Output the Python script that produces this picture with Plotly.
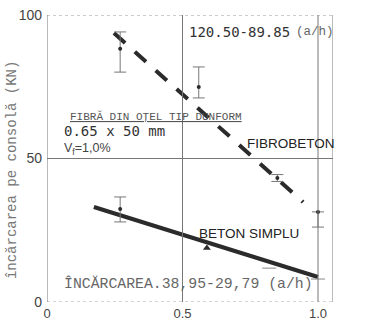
import plotly.graph_objects as go

# --- data ---
fib_x = [0.27, 0.56, 0.85, 1.00]
fib_y = [88.2, 74.9, 43.2, 31.4]
fib_err_plus = [5.9, 7.0, 1.2, 0.0]
fib_err_minus = [8.1, 3.8, 1.2, 5.3]

beton_x = [0.27, 0.59, 0.82, 1.00]
beton_y = [32.4, 18.8, 11.8, 8.0]
beton_err_plus = [4.2, 0.0, 0.0, 0.0]
beton_err_minus = [4.5, 0.0, 0.0, 0.0]

fib_line_x = [0.247, 0.945]
fib_line_y = [93.7, 34.8]
beton_line_x = [0.173, 1.0]
beton_line_y = [33.1, 8.7]

x_ticks = [0, 0.5, 1.0]
x_tick_labels = ["0", "0.5", "1.0"]
y_ticks = [0, 50, 100]
y_tick_labels = ["0", "50", "100"]

INK = "#2b2b2b"
GRAY = "#555555"
MONO = "Liberation Mono, monospace"
SMONO = "DejaVu Sans Mono, monospace"
SANS = "Liberation Sans, Arial, sans-serif"

fig = go.Figure()

# regression lines
fig.add_trace(go.Scatter(x=fib_line_x, y=fib_line_y, mode="lines",
                         line=dict(color=INK, width=4, dash="15px,13px"),
                         hoverinfo="skip", showlegend=False))
fig.add_trace(go.Scatter(x=beton_line_x, y=beton_line_y, mode="lines",
                         line=dict(color=INK, width=4),
                         hoverinfo="skip", showlegend=False))

# measured points with error bars
fig.add_trace(go.Scatter(x=fib_x, y=fib_y, mode="markers",
                         marker=dict(color=INK, size=4),
                         error_y=dict(type="data", array=fib_err_plus,
                                      arrayminus=fib_err_minus, symmetric=False,
                                      color="#777777", thickness=1, width=6),
                         showlegend=False))
fig.add_trace(go.Scatter(x=beton_x[:1], y=beton_y[:1], mode="markers",
                         marker=dict(color=INK, size=4),
                         error_y=dict(type="data", array=beton_err_plus[:1],
                                      arrayminus=beton_err_minus[:1], symmetric=False,
                                      color="#777777", thickness=1, width=6),
                         showlegend=False))
fig.add_trace(go.Scatter(x=beton_x[1:2], y=beton_y[1:2], mode="markers",
                         marker=dict(color=INK, size=7, symbol="triangle-up"),
                         showlegend=False))
fig.add_trace(go.Scatter(x=beton_x[2:], y=beton_y[2:], mode="markers",
                         marker=dict(color="#888888", size=10, symbol="line-ew",
                                     line=dict(color="#888888", width=1)),
                         showlegend=False))

x_max = 286 / 271

# frame and grid
grid = dict(color="#777777", width=1)
shapes = [
    dict(type="line", xref="x", yref="y", x0=0.5, x1=0.5, y0=0, y1=100, line=grid),
    dict(type="line", xref="x", yref="y", x0=1.0, x1=1.0, y0=0, y1=100, line=grid),
    dict(type="line", xref="x", yref="y", x0=0, x1=x_max, y0=50, y1=50, line=grid),
    dict(type="line", xref="x", yref="y", x0=x_max, x1=x_max, y0=0, y1=100, line=grid),
    dict(type="line", xref="x", yref="y", x0=0, x1=x_max, y0=100, y1=100,
         line=dict(color="#999999", width=1, dash="dot")),
    dict(type="line", xref="x", yref="y", x0=0, x1=x_max, y0=0, y1=0,
         line=dict(color="#aaaaaa", width=1, dash="dot")),
    dict(type="line", xref="x", yref="y", x0=0, x1=0, y0=0, y1=100, line=grid),
]

ann = []
def txt(x, y, s, size, family=MONO, color=GRAY, anchor="left"):
    ann.append(dict(x=x, y=y, xref="x", yref="y", text=s, showarrow=False,
                    xanchor=anchor, yanchor="middle",
                    font=dict(family=family, size=size, color=color)))

txt(0.517, 94.1, "120.50-89.85", 14, SMONO, "#333333")
txt(0.91, 94.1, "(a/h)", 12.5, MONO, "#666666")
txt(0.077, 64.5, "<u>FIBRĂ DIN OŢEL TIP DUNFORM</u>", 11, MONO, "#555555")
txt(0.055, 59.6, "0.65 x 50 mm", 14, SMONO, "#333333")
txt(0.055, 53.4, "V<sub>f</sub>=1,0%", 12.5, SANS, "#444444")
txt(0.73, 55.4, "FIBROBETON", 13.5, SANS, "#222222")
txt(0.553, 23.7, "BETON SIMPLU", 13.5, SANS, "#222222")
txt(0.055, 6.3, "ÎNCĂRCAREA.38,95-29,79 (a/h)", 14.8, MONO, "#666666")
ann.append(dict(x=1.162, y=-3.8, xref="x", yref="y", text="a/h", showarrow=False,
                font=dict(family=SANS, size=13, color="#333333")))
ann.append(dict(x=-0.122, y=0.46, xref="paper", yref="paper",
                text="încărcarea pe consolă (KN)", textangle=-90, showarrow=False,
                xanchor="center", yanchor="middle",
                font=dict(family=MONO, size=14, color="#777777")))

fig.update_layout(
    width=375, height=322,
    margin=dict(l=47, r=42, t=15, b=20),
    paper_bgcolor="white", plot_bgcolor="white",
    shapes=shapes, annotations=ann,
    xaxis=dict(range=[0, x_max], tickvals=x_ticks, ticktext=x_tick_labels,
               showgrid=False, zeroline=False, showline=False, automargin=False,
               ticks="", ticklabelstandoff=2,
               tickfont=dict(family=SANS, size=13, color="#444444")),
    yaxis=dict(range=[0, 100], tickvals=y_ticks, ticktext=y_tick_labels,
               showgrid=False, zeroline=False, showline=False, automargin=False,
               ticks="", ticklabelstandoff=4,
               tickfont=dict(family=SANS, size=14, color="#444444")),
)

fig.write_html("out.html")
